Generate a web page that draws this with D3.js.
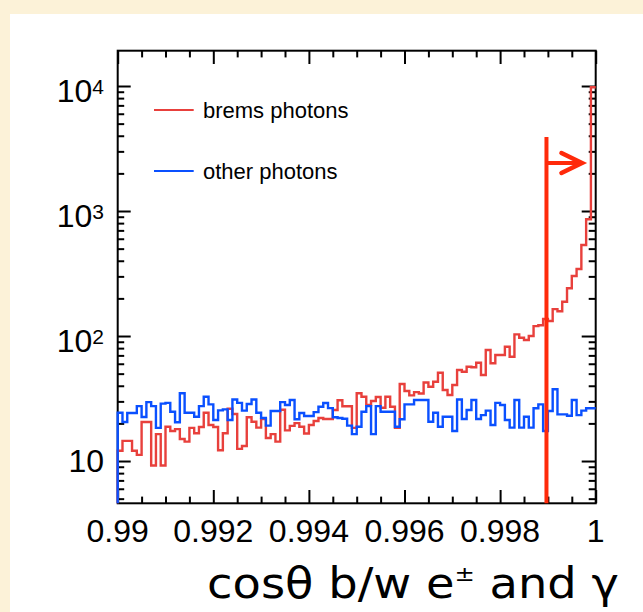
<!DOCTYPE html>
<html>
<head>
<meta charset="utf-8">
<script src="https://cdn.jsdelivr.net/npm/d3@7"></script>
<style>
  html, body { margin: 0; padding: 0; background: #fcf2d8; }
  svg { display: block; }
</style>
</head>
<body>
<div id="chart"></div>
<script>
// bin range of the histograms (100 bins between 0.99 and 1)
const xMin = 0.99;
const xMax = 1.0;
const nBins = 100;

// entries per bin (left to right)
const bremsCounts = [
  12.1, 14.5, 14.5, 12.1, 11.2, 20.5, 20.5, 9.2, 16.4, 9.2,
  18.8, 17.4, 18.0, 15.0, 14.3, 18.4, 16.7, 18.7, 24.3, 19.4,
  18.7, 12.2, 16.7, 26.2, 23.8, 12.5, 13.2, 22.4, 20.6, 18.5,
  21.7, 15.3, 16.4, 14.3, 25.7, 17.6, 19.1, 20.1, 18.8, 16.6,
  19.4, 20.9, 22.1, 21.7, 21.7, 25.6, 30.6, 27.4, 27.4, 18.4,
  34.8, 32.7, 28.1, 30.2, 32.5, 26.7, 32.7, 27.2, 18.4, 41.3,
  36.3, 33.5, 35.6, 34.7, 42.5, 39.3, 43.1, 50.9, 37.0, 33.7,
  40.6, 53.5, 51.8, 56.8, 56.2, 61.1, 48.8, 77.3, 60.5, 70.5,
  70.5, 82.0, 68.3, 103, 96.9, 92.9, 100, 120, 122, 137,
  132, 164, 158, 188, 241, 302, 344, 535, 859, 9760
];

const otherCounts = [
  24.3, 20.5, 24.2, 24.2, 27.5, 22.5, 29.6, 27.5, 18.4, 28.8,
  29.2, 24.8, 20.4, 34.8, 24.3, 24.3, 22.6, 27.5, 32.7, 28.4,
  21.3, 25.4, 25.9, 21.3, 31.1, 29.2, 25.3, 28.6, 31.1, 24.3,
  22.1, 19.2, 25.1, 25.1, 29.6, 28.1, 30.8, 21.6, 24.2, 22.9,
  22.9, 24.6, 27.2, 29.1, 26.5, 22.4, 22.1, 21.8, 19.2, 16.4,
  18.8, 24.8, 27.5, 16.4, 27.5, 24.8, 24.8, 24.8, 18.8, 21.6,
  28.4, 28.4, 30.8, 30.8, 30.8, 20.6, 24.3, 18.8, 22.6, 22.6,
  17.4, 31.1, 21.7, 25.6, 30.8, 21.7, 23.3, 25.3, 19.4, 29.2,
  28.1, 21.3, 18.5, 30.8, 18.5, 22.6, 18.5, 26.4, 28.4, 17.4,
  25.1, 37.5, 23.6, 23.6, 23.0, 30.8, 23.3, 25.3, 26.4, 26.4
];

// axis ticks and labels
const xMajorTicks = [0.99, 0.992, 0.994, 0.996, 0.998, 1.0];
const xTickLabels = ['0.99', '0.992', '0.994', '0.996', '0.998', '1'];
const yMajorTicks = [10, 100, 1000, 10000];
const yTickExponents = ['', '2', '3', '4'];

const legendLabels = ['brems photons', 'other photons'];
const xTitle = ['cos\u03b8 b/w e', '\u00b1', ' and \u03b3'];

// cut: keep photons above this cosine
const cutValue = 0.99897;
const cutTop = 3900;
const cutArrowY = 2420;

const width = 643;
const height = 612;

// plot frame in pixels
const frame = {left: 117.7, right: 595.7, top: 50.7, bottom: 503.3};

const colors = {
  brems: '#e8403c',
  other: '#0a50ff',
  cut: '#ff2a0a'
};

const scales = {
  x: d3.scaleLinear().domain([xMin, xMax]).range([frame.left, frame.right]),
  y: d3.scaleLog().domain([4.59, 19160]).range([frame.bottom, frame.top])
};

const svg = d3.select('#chart')
  .append('svg')
  .attr('width', width)
  .attr('height', height)
  .style('font-family', '"Liberation Sans", Arial, sans-serif');

// white page on the cream background
svg.append('rect')
  .attr('x', 10)
  .attr('y', 14)
  .attr('width', width - 10)
  .attr('height', height - 14)
  .style('fill', '#ffffff');

const g = {
  axes: svg.append('g').attr('id', 'axes'),
  hists: svg.append('g').attr('id', 'hists'),
  legend: svg.append('g').attr('id', 'legend'),
  cut: svg.append('g').attr('id', 'cut')
};

// frame
g.axes.append('rect')
  .attr('x', frame.left)
  .attr('y', frame.top)
  .attr('width', frame.right - frame.left)
  .attr('height', frame.bottom - frame.top)
  .style('fill', 'none')
  .style('stroke', '#000')
  .style('stroke-width', 2);

// minor ticks every 0.0005, log minors 2..9 per decade (only inside the frame)
const xMinorTicks = d3.range(0, 21).map(i => xMin + i * 0.0005)
  .filter(v => !xMajorTicks.some(m => Math.abs(m - v) < 1e-9));
const yDom = scales.y.domain();
const yMinorTicks = [];
[1, 10, 100, 1000, 10000].forEach(d => d3.range(2, 10).forEach(k => yMinorTicks.push(k * d)));
const yMinorIn = yMinorTicks.filter(v => v >= yDom[0] && v <= yDom[1]);

function drawAxis(axis, tx, ty) {
  const a = g.axes.append('g')
    .attr('transform', `translate(${tx}, ${ty})`)
    .call(axis);
  a.select('.domain').remove();
  a.selectAll('line').style('stroke', '#000').style('stroke-width', 2);
  a.selectAll('text').remove();
}

// inward ticks on all four sides
drawAxis(d3.axisBottom(scales.x).tickValues(xMajorTicks).tickSize(-13.3), 0, frame.bottom);
drawAxis(d3.axisBottom(scales.x).tickValues(xMinorTicks).tickSize(-6.7), 0, frame.bottom);
drawAxis(d3.axisTop(scales.x).tickValues(xMajorTicks).tickSize(-13.3), 0, frame.top);
drawAxis(d3.axisTop(scales.x).tickValues(xMinorTicks).tickSize(-6.7), 0, frame.top);
drawAxis(d3.axisLeft(scales.y).tickValues(yMajorTicks).tickSize(-13), frame.left, 0);
drawAxis(d3.axisLeft(scales.y).tickValues(yMinorIn).tickSize(-6.5), frame.left, 0);
drawAxis(d3.axisRight(scales.y).tickValues(yMajorTicks).tickSize(-14), frame.right, 0);
drawAxis(d3.axisRight(scales.y).tickValues(yMinorIn).tickSize(-7), frame.right, 0);

// x labels
g.axes.selectAll('text.xlabel')
  .data(xMajorTicks)
  .enter()
  .append('text')
  .attr('class', 'xlabel')
  .attr('x', v => scales.x(v))
  .attr('y', 542)
  .attr('text-anchor', 'middle')
  .style('font-size', '32px')
  .text((v, i) => xTickLabels[i]);

// y labels: 10, 10^2, 10^3, 10^4
const ylab = g.axes.selectAll('text.ylabel')
  .data(yMajorTicks)
  .enter()
  .append('text')
  .attr('class', 'ylabel')
  .attr('x', 104)
  .attr('y', (v, i) => scales.y(v) + (yTickExponents[i] ? 16 : 11))
  .attr('text-anchor', 'end')
  .style('font-size', '32px');
ylab.append('tspan').text('10');
ylab.filter((v, i) => yTickExponents[i])
  .append('tspan')
  .attr('dy', -8.4)
  .style('font-size', '21px')
  .text((v) => yTickExponents[yMajorTicks.indexOf(v)]);

// x axis title, widened (round geometric face in the original)
const titleG = g.axes.append('g');
const title = titleG.append('text')
  .attr('x', 0)
  .attr('y', 0)
  .attr('text-anchor', 'end')
  .style('font-family', '"DejaVu Sans", sans-serif')
  .style('font-size', '42px');
title.append('tspan').text(xTitle[0]);
title.append('tspan').attr('dy', -17).style('font-size', '22px').text(xTitle[1]);
title.append('tspan').attr('dy', 17).text(xTitle[2]);
const titleW = title.node().getComputedTextLength();
titleG.attr('transform', `translate(619, 598) scale(${412 / titleW}, 1)`);

// histograms as step lines, starting from the bottom of the frame
const binWidth = (xMax - xMin) / nBins;
function histPoints(counts) {
  const pts = [[xMin, yDom[0]]];
  counts.forEach((c, i) => pts.push([xMin + i * binWidth, c]));
  pts.push([xMax, counts[counts.length - 1]]);
  return pts;
}

const line = d3.line()
  .x(p => scales.x(p[0]))
  .y(p => scales.y(p[1]))
  .curve(d3.curveStepAfter);

g.hists.append('path')
  .datum(histPoints(bremsCounts))
  .attr('d', line)
  .style('fill', 'none')
  .style('stroke', colors.brems)
  .style('stroke-width', 2.4);

g.hists.append('path')
  .datum(histPoints(otherCounts))
  .attr('d', line)
  .style('fill', 'none')
  .style('stroke', colors.other)
  .style('stroke-width', 2.4);

// legend
const legendRows = [
  {label: legendLabels[0], color: colors.brems, y: 110},
  {label: legendLabels[1], color: colors.other, y: 171}
];
const rows = g.legend.selectAll('g.row')
  .data(legendRows)
  .enter()
  .append('g')
  .attr('class', 'row');
rows.append('line')
  .attr('x1', 154).attr('x2', 193.7)
  .attr('y1', d => d.y).attr('y2', d => d.y)
  .style('stroke', d => d.color)
  .style('stroke-width', 2);
rows.append('text')
  .attr('x', 203)
  .attr('y', d => d.y + 8)
  .style('font-size', '22px')
  .text(d => d.label);

// cut line with arrow
const cx = scales.x(cutValue);
const ay = scales.y(cutArrowY);
g.cut.append('line')
  .attr('x1', cx).attr('x2', cx)
  .attr('y1', scales.y(cutTop)).attr('y2', frame.bottom)
  .style('stroke', colors.cut)
  .style('stroke-width', 4);
g.cut.append('line')
  .attr('x1', cx).attr('x2', cx + 35)
  .attr('y1', ay).attr('y2', ay)
  .style('stroke', colors.cut)
  .style('stroke-width', 4);
g.cut.append('path')
  .attr('d', `M${cx + 15},${ay - 10} L${cx + 35.5},${ay} L${cx + 15},${ay + 10}`)
  .style('fill', 'none')
  .style('stroke', colors.cut)
  .style('stroke-width', 4.5)
  .style('stroke-linecap', 'round');
</script>
</body>
</html>
